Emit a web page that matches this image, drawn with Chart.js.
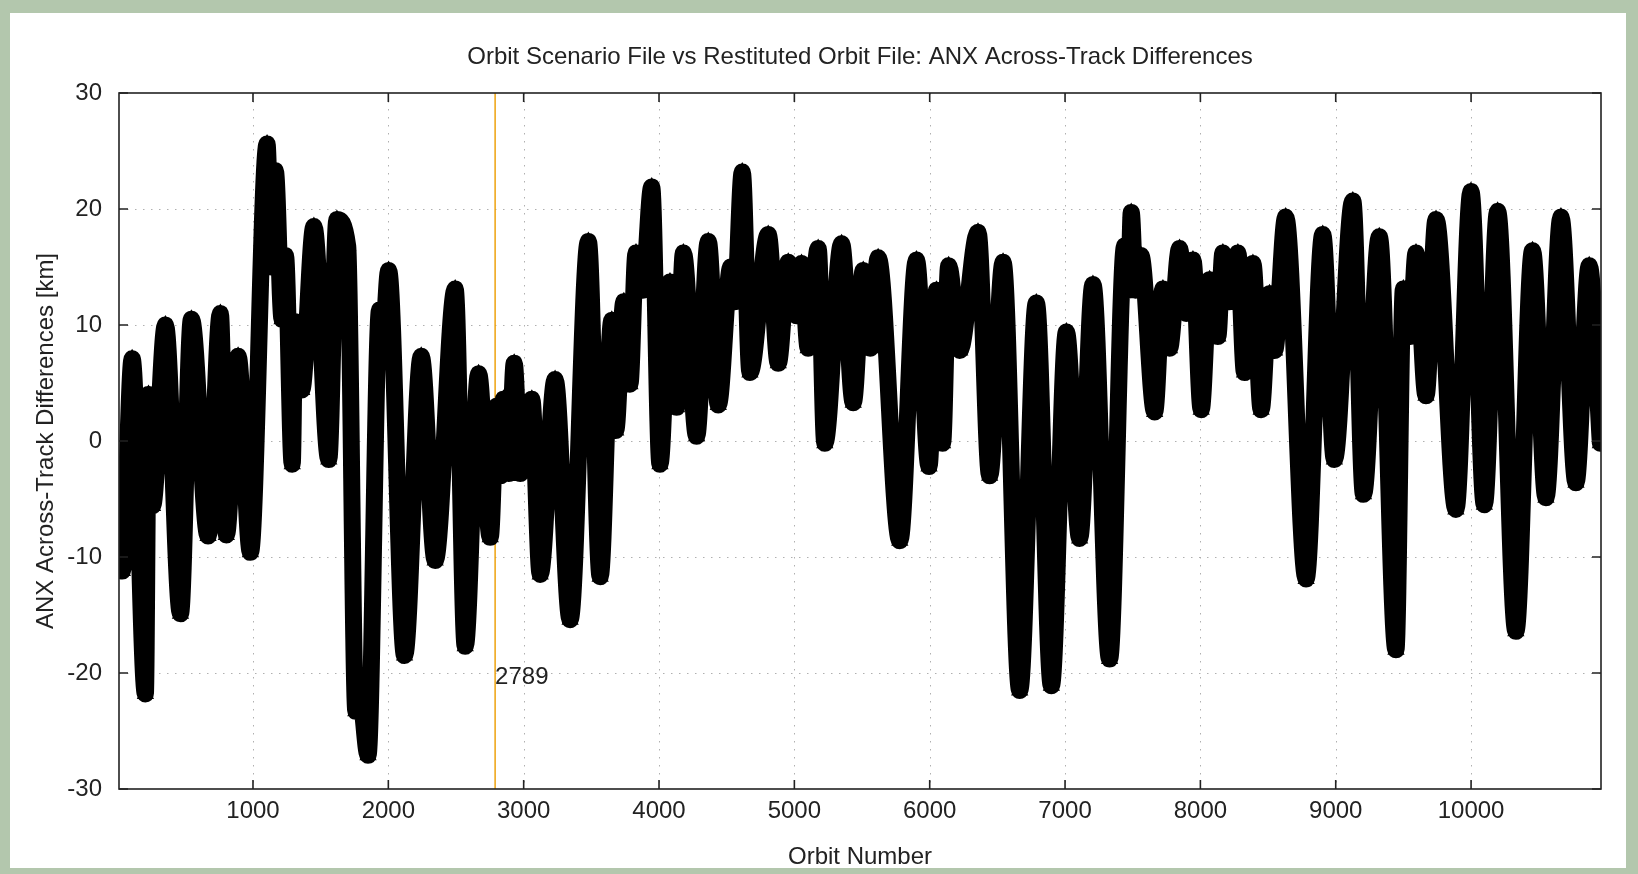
<!DOCTYPE html>
<html>
<head>
<meta charset="utf-8">
<script src="https://cdn.jsdelivr.net/npm/chart.js@4.4.1/dist/chart.umd.min.js"></script>
<style>
  html, body { margin: 0; padding: 0; }
  body { width: 1638px; height: 874px; background: #b3c7ad; overflow: hidden; position: relative; }
  #paper { position: absolute; left: 10px; top: 13px; width: 1616px; height: 855px; background: #fff; }
  #plot { position: absolute; left: 0; top: 0; }
</style>
</head>
<body>
<div id="paper"></div>
<canvas id="plot" width="1638" height="874"></canvas>
<script>
// orbit number / across-track difference [km] (peaks and troughs)
const orbits = [
  15, 35, 107, 205, 228, 258, 353, 464, 545, 668, 759, 803, 890, 981,
  1104, 1135, 1165, 1215, 1240, 1290, 1310, 1360, 1450, 1560, 1620, 1700, 1760, 1790, 1850,
  1935, 1960, 2002, 2120, 2243, 2346, 2494, 2568, 2667, 2753, 2800, 2830, 2851, 2890, 2930,
  2975, 3000, 3030, 3060, 3122, 3232, 3343, 3478, 3565, 3651,
  3680, 3740, 3785, 3830, 3880, 3946, 4007, 4081, 4130, 4180, 4278, 4364, 4438, 4530, 4560,
  4615, 4672, 4807, 4881, 4955, 5016, 5053, 5102, 5176, 5225, 5349, 5435, 5509,
  5560, 5619, 5779, 5902, 5995, 6050, 6095, 6140, 6222, 6357, 6443, 6542, 6665, 6788, 6899,
  7010, 7108, 7206, 7329,
  7440, 7470, 7489, 7520, 7560, 7662, 7723, 7772, 7846, 7895, 7945, 8006, 8068, 8129, 8166,
  8215, 8277, 8326, 8388, 8449, 8511, 8548, 8630, 8781, 8904, 8990, 9126, 9205,
  9322, 9445, 9500, 9550, 9593, 9667, 9741, 9888, 9999, 10098, 10196, 10331, 10454, 10553,
  10664, 10775, 10873, 10955
];
const anxDiff = [
  -4.5, -11.2, 7.1, -21.8, 4.0, -5.6, 10.0, -14.9, 10.5, -8.2, 11.0, -8.1, 7.3, -9.6,
  25.6, 15.0, 23.3, 10.5, 16.0, -2.0, 10.3, 4.4, 18.5, -1.6, 19.1, 16.8, -23.3, -22.0, -27.1,
  11.3, 9.0, 14.7, -18.5, 7.3, -10.3, 13.1, -17.7, 5.8, -8.3, 3.0, -3.0, 3.6, -2.8, 6.7,
  -2.8, 3.3, -2.3, 3.6, -11.5, 5.3, -15.4, 17.2, -11.7, 10.4,
  0.9, 12.0, 4.9, 16.2, 13.0, 21.9, -2.0, 13.7, 2.9, 16.2, 0.4, 17.2, 3.1, 15.0, 12.0,
  23.2, 5.9, 17.8, 6.7, 15.4, 10.8, 15.3, 8.0, 16.6, -0.2, 17.0, 3.3, 14.7,
  8.0, 15.8, -8.6, 15.6, -2.2, 13.0, -0.2, 15.1, 7.8, 18.0, -3.0, 15.4, -21.5, 11.9, -21.1,
  9.4, -8.4, 13.5, -18.8,
  16.8, 13.0, 19.7, 13.0, 16.0, 2.5, 13.1, 8.0, 16.6, 11.0, 15.6, 2.7, 13.9, 9.0, 16.2,
  12.0, 16.2, 5.9, 15.3, 2.7, 12.7, 7.8, 19.3, -11.9, 17.8, -1.6, 20.7, -4.6,
  17.6, -18.0, 13.1, 9.0, 16.2, 3.9, 19.1, -5.9, 21.5, -5.5, 19.8, -16.4, 16.4, -4.9,
  19.3, -3.6, 15.1, -0.2
];
const markerOrbit = 2789;
const markerLabel = '2789';
const chartTitle = 'Orbit Scenario File vs Restituted Orbit File: ANX Across-Track Differences';
const xTicks = [1000, 2000, 3000, 4000, 5000, 6000, 7000, 8000, 9000, 10000];
const yTicks = [-30, -20, -10, 0, 10, 20, 30];
const xMin = 10, xMax = 10960, yMin = -30, yMax = 30;

const FONT = 'Liberation Sans, Arial, Helvetica, sans-serif';
const FSIZE = 24;

// gnuplot-like frame: dotted grid, box border, inward ticks on all four sides, title, marker label
const gnuFrame = {
  id: 'gnuFrame',
  beforeDatasetsDraw(chart) {
    const { ctx, chartArea: a, scales: { x, y } } = chart;
    ctx.save();
    ctx.strokeStyle = '#b0b0b0';
    ctx.lineWidth = 1;
    ctx.setLineDash([1.5, 6.5]);
    xTicks.forEach(v => {
      const px = Math.round(x.getPixelForValue(v)) + 0.5;
      ctx.beginPath(); ctx.moveTo(px, a.top); ctx.lineTo(px, a.bottom); ctx.stroke();
    });
    yTicks.forEach(v => {
      if (v === yMin || v === yMax) return;
      const py = Math.round(y.getPixelForValue(v)) + 0.5;
      ctx.beginPath(); ctx.moveTo(a.left, py); ctx.lineTo(a.right, py); ctx.stroke();
    });
    ctx.restore();
  },
  afterDatasetsDraw(chart) {
    const { ctx, chartArea: a, scales: { x, y } } = chart;
    ctx.save();
    ctx.strokeStyle = '#222';
    ctx.lineWidth = 1.6;
    ctx.strokeRect(a.left, a.top, a.right - a.left, a.bottom - a.top);
    const tl = 9;
    ctx.beginPath();
    xTicks.forEach(v => {
      const px = x.getPixelForValue(v);
      ctx.moveTo(px, a.bottom); ctx.lineTo(px, a.bottom - tl);
      ctx.moveTo(px, a.top); ctx.lineTo(px, a.top + tl);
    });
    yTicks.forEach(v => {
      const py = y.getPixelForValue(v);
      ctx.moveTo(a.left, py); ctx.lineTo(a.left + tl, py);
      ctx.moveTo(a.right, py); ctx.lineTo(a.right - tl, py);
    });
    ctx.stroke();
    ctx.fillStyle = '#222';
    ctx.font = FSIZE + 'px ' + FONT;
    ctx.textBaseline = 'middle';
    // title centred over the plot box, as gnuplot does
    ctx.textAlign = 'center';
    ctx.fillText(chartTitle, (a.left + a.right) / 2, 57);
    // label of the vertical marker
    ctx.textAlign = 'left';
    ctx.fillText(markerLabel, x.getPixelForValue(markerOrbit), y.getPixelForValue(-20.4));
    ctx.restore();
  }
};

const ctx = document.getElementById('plot').getContext('2d');
new Chart(ctx, {
  type: 'line',
  data: {
    datasets: [
      {
        label: 'ANX across-track',
        data: orbits.map((o, i) => ({ x: o, y: anxDiff[i] })),
        borderColor: '#000',
        backgroundColor: '#000',
        borderWidth: 17,
        borderJoinStyle: 'round',
        borderCapStyle: 'round',
        cubicInterpolationMode: 'monotone',
        pointStyle: 'triangle',
        pointRadius: 10,
        pointBorderWidth: 0,
        order: 0
      },
      {
        label: 'marker',
        data: [{ x: markerOrbit, y: yMin }, { x: markerOrbit, y: yMax }],
        borderColor: '#eea20e',
        borderWidth: 1.5,
        pointRadius: 0,
        order: 1
      }
    ]
  },
  options: {
    responsive: false,
    animation: false,
    events: [],
    layout: { padding: { left: 20, right: 37, top: 93, bottom: 0 } },
    plugins: {
      legend: { display: false },
      tooltip: { enabled: false },
      title: { display: false }
    },
    scales: {
      x: {
        type: 'linear',
        min: xMin,
        max: xMax,
        afterBuildTicks: axis => { axis.ticks = xTicks.map(v => ({ value: v })); },
        afterFit: axis => { axis.height = 85; },
        grid: { display: false, drawTicks: false },
        border: { display: false },
        ticks: { color: '#222', font: { family: FONT, size: FSIZE }, padding: 8, maxRotation: 0, callback: v => String(v) },
        title: { display: true, text: 'Orbit Number', color: '#222', font: { family: FONT, size: FSIZE }, padding: { top: 0, bottom: 2 } }
      },
      y: {
        type: 'linear',
        min: yMin,
        max: yMax,
        afterBuildTicks: axis => { axis.ticks = yTicks.map(v => ({ value: v })); },
        afterFit: axis => { axis.width = 99; },
        grid: { display: false, drawTicks: false },
        border: { display: false },
        ticks: { color: '#222', font: { family: FONT, size: FSIZE }, padding: 17, callback: v => String(v) },
        title: { display: true, text: 'ANX Across-Track Differences [km]', color: '#222', font: { family: FONT, size: FSIZE }, padding: { top: 12, bottom: 0 } }
      }
    }
  },
  plugins: [gnuFrame]
});
</script>
</body>
</html>
